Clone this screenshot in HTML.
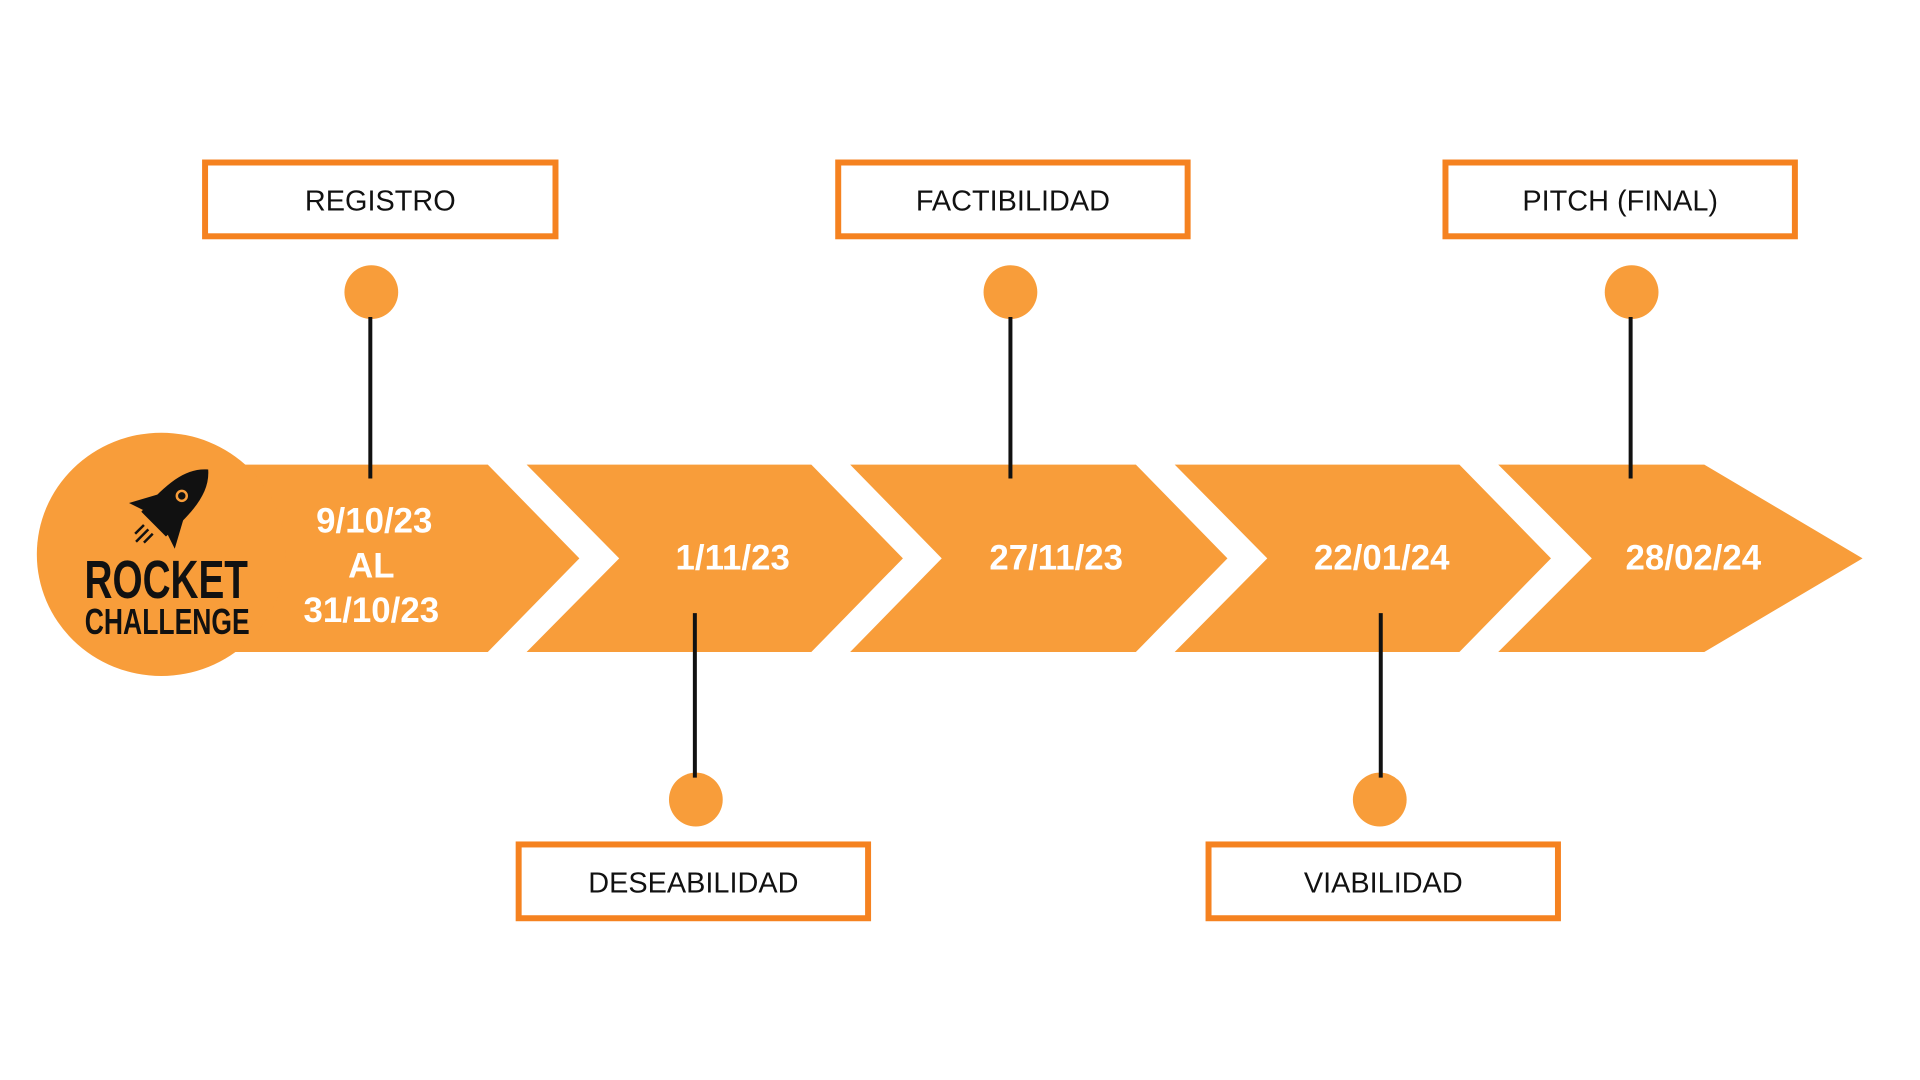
<!DOCTYPE html>
<html><head><meta charset="utf-8"><style>
html,body{margin:0;padding:0;background:#fff;}
body{width:1920px;height:1080px;position:relative;overflow:hidden;font-family:"Liberation Sans",sans-serif;}
#w{position:absolute;left:0;top:0;width:1920px;height:1080px;transform:scale(0.9955,0.997);transform-origin:0 0;}
.box{position:absolute;box-sizing:border-box;border:6px solid #F58220;background:#fff;display:flex;align-items:center;justify-content:center;font-size:29px;color:#111;padding-top:4px;}
</style></head><body><div id="w">
<svg width="1920" height="1080" style="position:absolute;left:0;top:0">
<g fill="#F89D3A">
<polygon points="234,466 490,466 582,560 490,654 234,654"/>
<polygon points="529,466 815,466 907,560 815,654 529,654 622,560"/>
<polygon points="854,466 1141,466 1233,560 1141,654 854,654 946,560"/>
<polygon points="1180,466 1466,466 1558,560 1466,654 1180,654 1273,560"/>
<polygon points="1505,466 1712,466 1871,560 1712,654 1505,654 1599,560"/>
<ellipse cx="162" cy="556" rx="125" ry="122"/>
<circle cx="373" cy="293" r="27"/>
<circle cx="1015" cy="293" r="27"/>
<circle cx="1639" cy="293" r="27"/>
<circle cx="699" cy="802" r="27"/>
<circle cx="1386" cy="802" r="27"/>
</g>
<g stroke="#111" stroke-width="4">
<line x1="372" y1="318" x2="372" y2="480"/>
<line x1="1015" y1="318" x2="1015" y2="480"/>
<line x1="1638" y1="318" x2="1638" y2="480"/>
<line x1="698" y1="615" x2="698" y2="780"/>
<line x1="1387" y1="615" x2="1387" y2="780"/>
</g>
<g transform="translate(172,508) rotate(45) scale(1.25)" fill="#111">
<path d="M0,-42 C14,-30 16,-10 14,20 L-14,20 C-16,-10 -14,-30 0,-42Z"/>
<path d="M-14,0 L-26,22 L-14,18Z"/>
<path d="M14,0 L26,22 L14,18Z"/>
<circle cx="0" cy="-12" r="5" fill="#F89D3A"/>
<circle cx="0" cy="-12" r="3" fill="#111"/>
<rect x="-6" y="26" width="2" height="10"/><rect x="-1" y="26" width="2" height="14"/><rect x="4" y="26" width="2" height="10"/>
</g>
<g fill="#fff" font-family="Liberation Sans, sans-serif" font-weight="bold" font-size="35" text-anchor="middle">
<text x="376" y="534">9/10/23</text>
<text x="373" y="579">AL</text>
<text x="373" y="624">31/10/23</text>
<text x="736" y="571">1/11/23</text>
<text x="1061" y="571">27/11/23</text>
<text x="1388" y="571">22/01/24</text>
<text x="1701" y="571">28/02/24</text>
</g>
<g fill="#111" font-family="Liberation Sans, sans-serif" font-weight="bold" text-anchor="middle">
<text transform="translate(167,600) scale(0.72,1)" font-size="54">ROCKET</text>
<text transform="translate(168,636) scale(0.74,1)" font-size="36">CHALLENGE</text>
</g>
</svg>
<div class="box" style="left:203px;top:160px;width:358px;height:80px;">REGISTRO</div>
<div class="box" style="left:839px;top:160px;width:357px;height:80px;">FACTIBILIDAD</div>
<div class="box" style="left:1449px;top:160px;width:357px;height:80px;">PITCH (FINAL)</div>
<div class="box" style="left:518px;top:844px;width:357px;height:80px;">DESEABILIDAD</div>
<div class="box" style="left:1211px;top:844px;width:357px;height:80px;">VIABILIDAD</div>
</div></body></html>
